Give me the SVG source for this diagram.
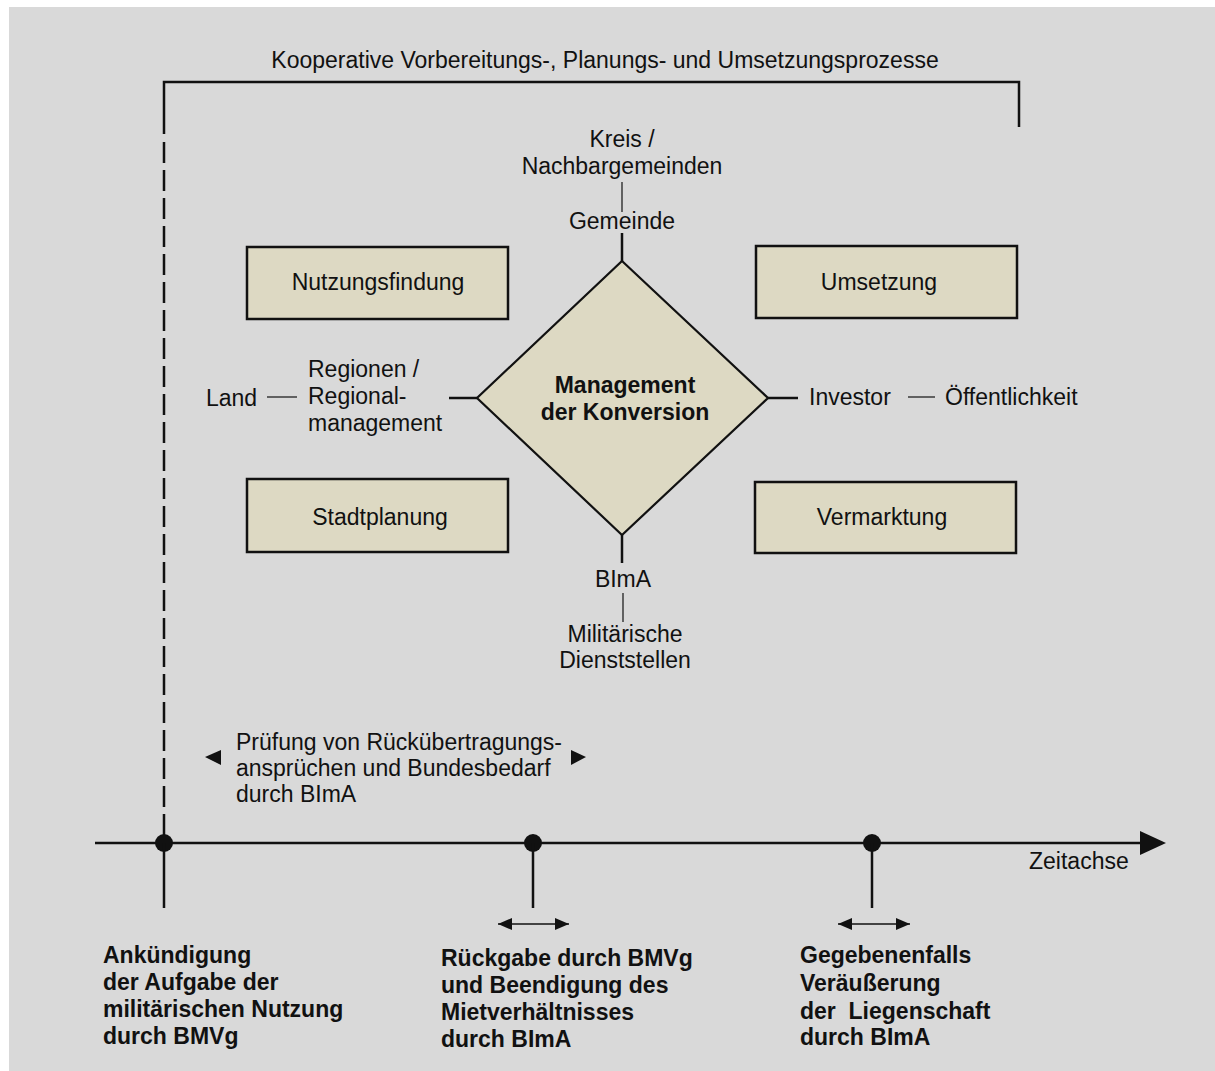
<svg xmlns="http://www.w3.org/2000/svg" width="1215" height="1071" viewBox="0 0 1215 1071">
  <defs>
    <style>
      text { font-family: "Liberation Sans", Arial, sans-serif; font-size: 23px; fill: #111; }
      .b { font-weight: bold; }
      .c { text-anchor: middle; }
      .box { fill: #ddd9c3; stroke: #111; stroke-width: 2.5; }
      .ln { stroke: #111; stroke-width: 2.5; fill: none; }
      .thin { stroke: #111; stroke-width: 1.2; fill: none; }
      .arr { stroke: #111; stroke-width: 1.5; fill: none; }
    </style>
    <marker id="head" viewBox="0 0 14 12" refX="14" refY="6" markerWidth="14" markerHeight="12" markerUnits="userSpaceOnUse" orient="auto-start-reverse">
      <path d="M0,0 L14,6 L0,12 z" fill="#111"/>
    </marker>
  </defs>

  <!-- background panel -->
  <rect x="9" y="7" width="1206" height="1064" fill="#d9d9d9"/>

  <!-- overall process bracket -->
  <g id="bracket">
    <text x="605" y="68" class="c">Kooperative Vorbereitungs-, Planungs- und Umsetzungsprozesse</text>
    <path class="ln" d="M164,134 L164,82 L1019,82 L1019,127"/>
    <line class="ln" x1="164" y1="142" x2="164" y2="838" stroke-dasharray="21 7"/>
  </g>

  <!-- connectors -->
  <g id="connectors">
    <line class="ln" x1="622" y1="233" x2="622" y2="261"/>
    <line class="thin" x1="622" y1="182" x2="622" y2="212"/>
    <line class="ln" x1="622" y1="535" x2="622" y2="563"/>
    <line class="thin" x1="623" y1="593" x2="623" y2="622"/>
    <line class="ln" x1="449" y1="398" x2="477" y2="398"/>
    <line class="ln" x1="768" y1="398" x2="798" y2="398"/>
    <line class="thin" x1="267" y1="397" x2="297" y2="397"/>
    <line class="thin" x1="908" y1="397" x2="935" y2="397"/>
  </g>

  <!-- central diamond -->
  <g id="management">
    <polygon points="622,261 768,398 622,535 477,398" fill="#ddd9c3" stroke="#111" stroke-width="2.2"/>
    <text x="625" y="393" class="c b">Management</text>
    <text x="625" y="420" class="c b">der Konversion</text>
  </g>

  <g id="nutzungsfindung">
    <rect class="box" x="247" y="247" width="261" height="72"/>
    <text x="378" y="290" class="c">Nutzungsfindung</text>
  </g>
  <g id="umsetzung">
    <rect class="box" x="756" y="246" width="261" height="72"/>
    <text x="879" y="290" class="c">Umsetzung</text>
  </g>
  <g id="stadtplanung">
    <rect class="box" x="247" y="479" width="261" height="73"/>
    <text x="380" y="525" class="c">Stadtplanung</text>
  </g>
  <g id="vermarktung">
    <rect class="box" x="755" y="482" width="261" height="71"/>
    <text x="882" y="525" class="c">Vermarktung</text>
  </g>

  <!-- actors around the diamond -->
  <g id="actors">
    <text x="622" y="147" class="c">Kreis /</text>
    <text x="622" y="174" class="c">Nachbargemeinden</text>
    <text x="622" y="229" class="c">Gemeinde</text>
    <text x="623" y="587" class="c">BImA</text>
    <text x="625" y="642" class="c">Militärische</text>
    <text x="625" y="668" class="c">Dienststellen</text>
    <text x="206" y="406">Land</text>
    <text x="308" y="377">Regionen /</text>
    <text x="308" y="404">Regional-</text>
    <text x="308" y="431">management</text>
    <text x="809" y="405">Investor</text>
    <text x="945" y="405">Öffentlichkeit</text>
  </g>

  <!-- review period -->
  <g id="pruefung">
    <polygon points="205,757 221,750 221,765" fill="#111"/>
    <polygon points="586,757 571,750 571,765" fill="#111"/>
    <text x="236" y="750">Prüfung von Rückübertragungs-</text>
    <text x="236" y="776">ansprüchen und Bundesbedarf</text>
    <text x="236" y="802">durch BImA</text>
  </g>

  <!-- time axis -->
  <g id="zeitachse">
    <line class="ln" x1="95" y1="843" x2="1142" y2="843"/>
    <polygon points="1140,831 1166,843 1140,855" fill="#111"/>
    <text x="1029" y="869">Zeitachse</text>
  </g>

  <g id="ankuendigung">
    <circle cx="164" cy="843" r="9" fill="#111"/>
    <line class="ln" x1="164" y1="843" x2="164" y2="908"/>
    <text x="103" y="963" class="b">Ankündigung</text>
    <text x="103" y="990" class="b">der Aufgabe der</text>
    <text x="103" y="1017" class="b">militärischen Nutzung</text>
    <text x="103" y="1044" class="b">durch BMVg</text>
  </g>

  <g id="rueckgabe">
    <circle cx="533" cy="843" r="9" fill="#111"/>
    <line class="ln" x1="533" y1="843" x2="533" y2="908"/>
    <line class="arr" x1="498" y1="924" x2="569" y2="924" marker-start="url(#head)" marker-end="url(#head)"/>
    <text x="441" y="966" class="b">Rückgabe durch BMVg</text>
    <text x="441" y="993" class="b">und Beendigung des</text>
    <text x="441" y="1020" class="b">Mietverhältnisses</text>
    <text x="441" y="1047" class="b">durch BImA</text>
  </g>

  <g id="veraeusserung">
    <circle cx="872" cy="843" r="9" fill="#111"/>
    <line class="ln" x1="872" y1="843" x2="872" y2="908"/>
    <line class="arr" x1="838" y1="924" x2="910" y2="924" marker-start="url(#head)" marker-end="url(#head)"/>
    <text x="800" y="963" class="b">Gegebenenfalls</text>
    <text x="800" y="991" class="b">Veräußerung</text>
    <text x="800" y="1019" class="b" xml:space="preserve">der  Liegenschaft</text>
    <text x="800" y="1045" class="b">durch BImA</text>
  </g>
</svg>
